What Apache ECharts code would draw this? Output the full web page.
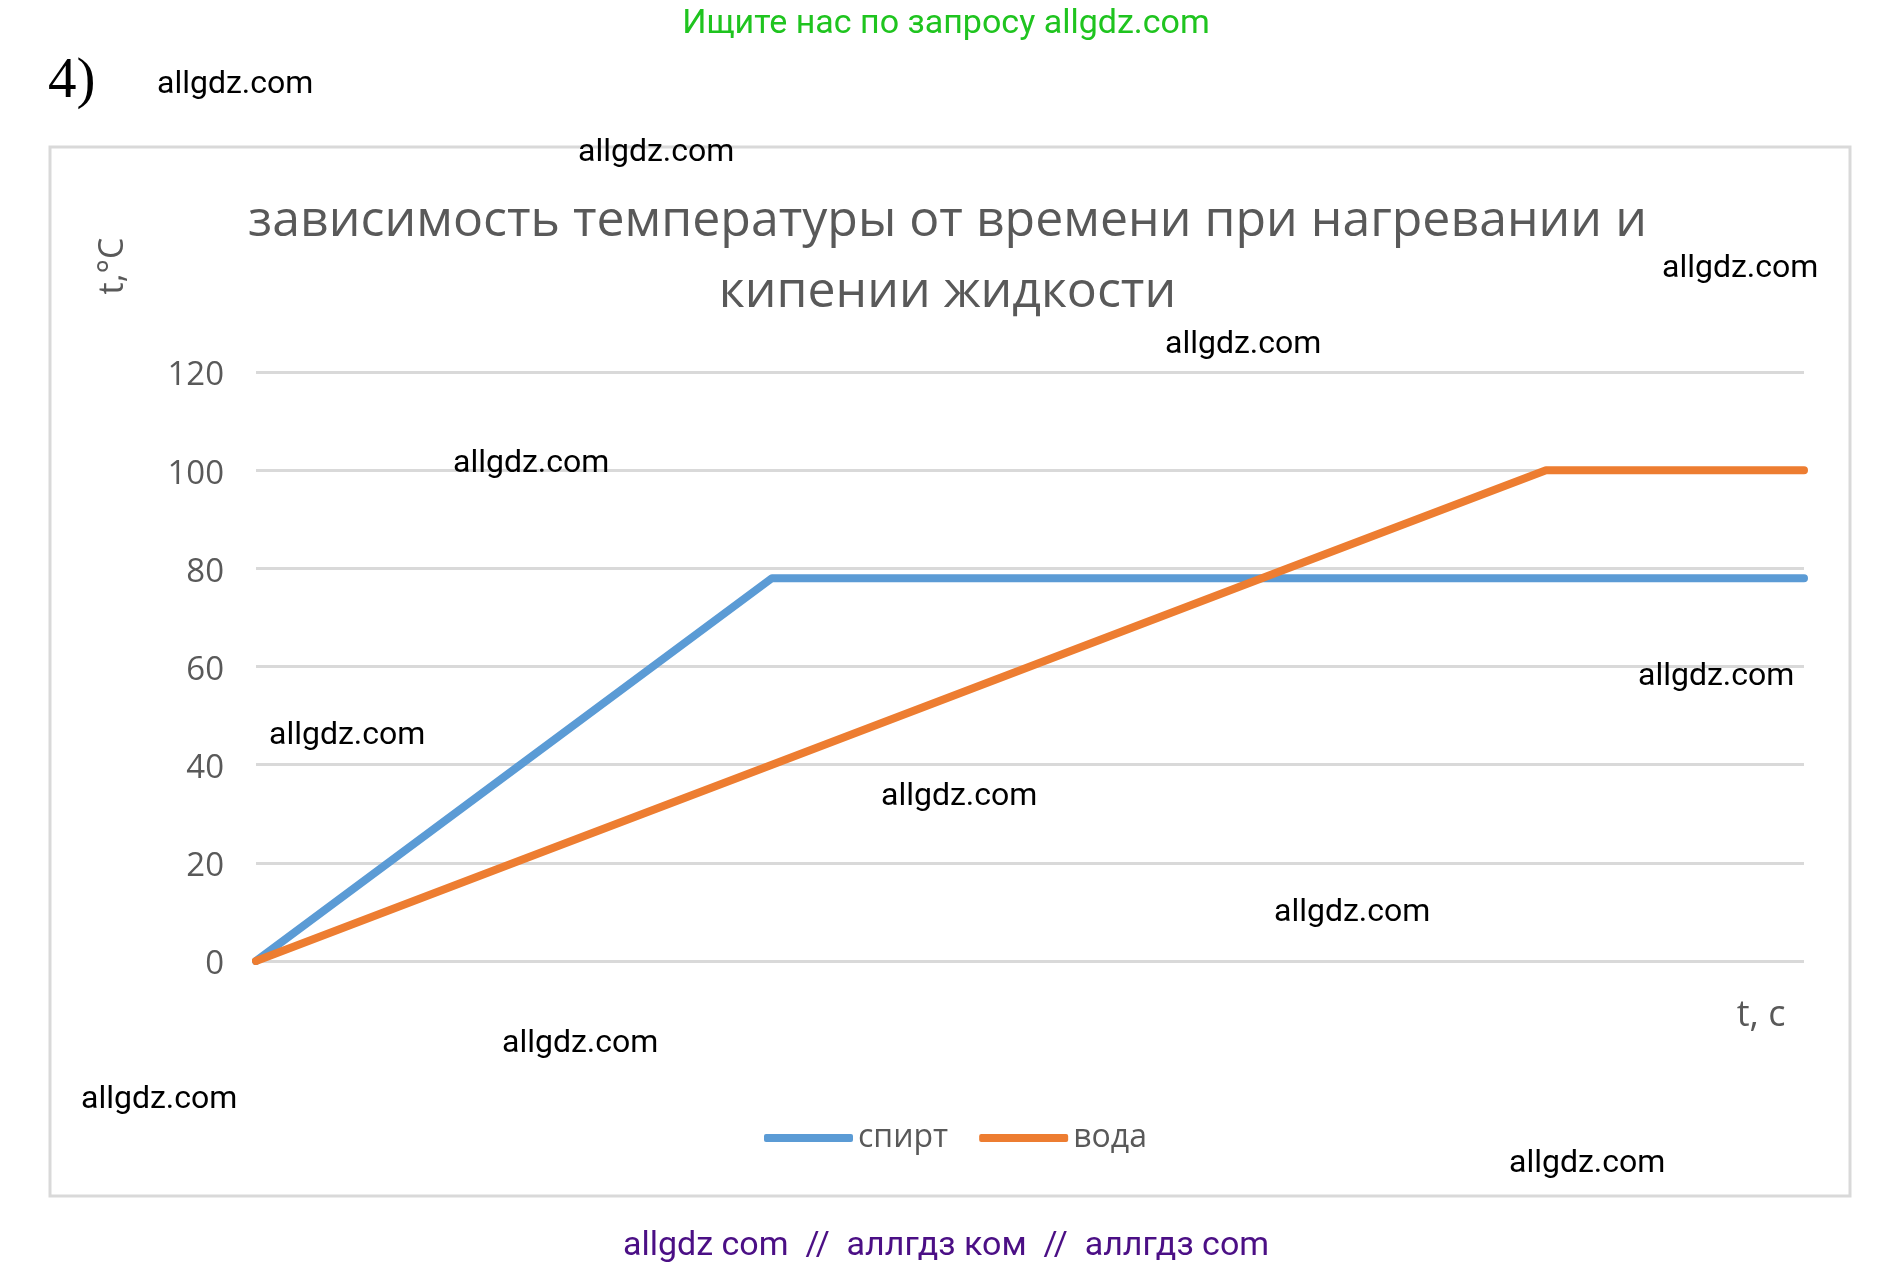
<!DOCTYPE html>
<html>
<head>
<meta charset="utf-8">
<script src="https://cdn.jsdelivr.net/npm/echarts@6/dist/echarts.min.js"></script>
<style>
html,body{margin:0;padding:0;background:#fff;}
#chart{width:1895px;height:1269px;}
</style>
</head>
<body>
<div id="chart"></div>
<script>
// Data
var categories = ['0', '1', '2', '3', '4', '5', '6'];
var spirt = [0, 39, 78, 78, 78, 78, 78];
var voda = [0, 20, 40, 60, 80, 100, 100];
var seriesNames = ['спирт', 'вода'];
var titleText = 'зависимость температуры от времени при нагревании и\nкипении жидкости';
var yAxisName = 't,°C';
var xAxisName = 't, c';
var watermarkText = 'allgdz.com';
var watermarks = [
  [157, 85], [578, 153], [1662, 269], [1165, 345], [453, 464], [1638, 677],
  [269, 736], [881, 797], [1274, 913], [502, 1044], [81, 1100], [1509, 1164]
];

var chart = echarts.init(document.getElementById('chart'), null, {renderer: 'canvas'});

var graphics = [
  {type: 'rect', shape: {x: 50, y: 147, width: 1800, height: 1049}, style: {fill: 'none', stroke: '#d9d9d9', lineWidth: 3}, z: 0},
  {type: 'text', x: 946, y: 24, style: {text: 'Ищите нас по запросу allgdz.com', fill: '#1fc41f', font: '34px Roboto', textAlign: 'center', textVerticalAlign: 'middle'}},
  {type: 'text', x: 48, y: 82, style: {text: '4)', fill: '#000', font: '57px "Liberation Serif"', textAlign: 'left', textVerticalAlign: 'middle'}},
  {type: 'text', x: 946, y: 1246, style: {text: 'allgdz com  //  аллгдз ком  //  аллгдз com', fill: '#4b0f85', font: '34px Roboto', textAlign: 'center', textVerticalAlign: 'middle'}},
  {type: 'text', x: 113, y: 266, rotation: Math.PI / 2, style: {text: yAxisName, fill: '#595959', font: '34px "Open Sans"', textAlign: 'center', textVerticalAlign: 'middle'}},
  {type: 'text', x: 1761, y: 1016, style: {text: xAxisName, fill: '#595959', font: '36px "Open Sans"', textAlign: 'center', textVerticalAlign: 'middle'}}
];
watermarks.forEach(function (p) {
  graphics.push({type: 'text', x: p[0], y: p[1], z: 100, style: {text: watermarkText, fill: '#000', font: '32px Roboto', textAlign: 'left', textVerticalAlign: 'middle'}});
});

var option = {
  backgroundColor: '#ffffff',
  animation: false,
  title: {
    text: titleText,
    left: 'center',
    top: 181,
    textStyle: {fontFamily: 'Open Sans', fontSize: 50, fontWeight: 'normal', color: '#595959', lineHeight: 71}
  },
  legend: {
    data: seriesNames,
    left: 759,
    top: 1117,
    itemWidth: 89,
    itemHeight: 8,
    itemGap: 31,
    icon: 'roundRect',
    textStyle: {fontFamily: 'Open Sans', fontSize: 32, color: '#595959'}
  },
  grid: {left: 256, right: 91, top: 372, bottom: 308, containLabel: false, outerBoundsMode: 'none'},
  xAxis: {
    type: 'category',
    data: categories,
    boundaryGap: false,
    axisLine: {show: false},
    axisTick: {show: false},
    axisLabel: {show: false},
    splitLine: {show: false}
  },
  yAxis: {
    type: 'value',
    min: 0,
    max: 120,
    interval: 20,
    axisLine: {show: false},
    axisTick: {show: false},
    axisLabel: {fontFamily: 'Open Sans', fontSize: 33, color: '#595959', margin: 32, verticalAlign: 'top', lineHeight: 8},
    splitLine: {lineStyle: {color: '#d9d9d9', width: 3}}
  },
  series: [
    {name: seriesNames[0], type: 'line', data: spirt, symbol: 'none', color: '#5b9bd5', lineStyle: {width: 8, cap: 'round', join: 'round', color: '#5b9bd5'}},
    {name: seriesNames[1], type: 'line', data: voda, symbol: 'none', color: '#ed7d31', lineStyle: {width: 8, cap: 'round', join: 'round', color: '#ed7d31'}}
  ],
  graphic: graphics
};
chart.setOption(option);
</script>
</body>
</html>
